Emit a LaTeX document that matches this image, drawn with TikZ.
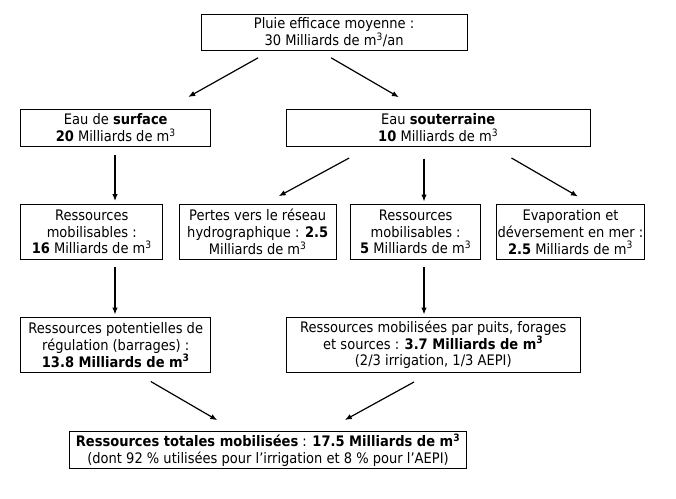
\documentclass[tikz,border=0pt]{standalone}
\usepackage{fontspec}
\setmainfont[FakeStretch=0.9]{DejaVu Sans}
\usetikzlibrary{arrows.meta}
\begin{document}
\begin{tikzpicture}[x=1pt,y=-1pt,
  box/.style={draw,line width=1pt,align=center,inner sep=0pt,font=\fontsize{14.5}{16.8}\selectfont},
  arr/.style={line width=1.2pt,-{Latex[length=7pt,width=5.5pt]}}]
\useasboundingbox[fill=white] (0,0) rectangle (676,498);
\node[box,minimum width=266.1pt,minimum height=35.7pt] (top) at (334.05,32.15) {Pluie efficace moyenne :\\30 Milliards de m\textsuperscript{3}/an};
\node[box,minimum width=190.1pt,minimum height=37.3pt] (surf) at (115.75,127.65) {Eau de \textbf{surface}\\\textbf{20} Milliards de m\textsuperscript{3}};
\node[box,minimum width=303.6pt,minimum height=37.3pt] (sout) at (438.2,127.65) {Eau \textbf{souterraine}\\\textbf{10} Milliards de m\textsuperscript{3}};
\node[box,minimum width=142.1pt,minimum height=54.8pt] (b1) at (91.75,231.9) {Ressources\\mobilisables :\\\textbf{16} Milliards de m\textsuperscript{3}};
\node[box,minimum width=157.2pt,minimum height=54.8pt] (b2) at (257.7,231.9) {Pertes vers le réseau\\hydrographique : \textbf{2.5}\\Milliards de m\textsuperscript{3}};
\node[box,minimum width=129.7pt,minimum height=54.8pt] (b3) at (415.65,231.9) {Ressources\\mobilisables :\\\textbf{5} Milliards de m\textsuperscript{3}};
\node[box,minimum width=148.9pt,minimum height=54.8pt] (b4) at (570.45,231.9) {Evaporation et\\déversement en mer :\\\textbf{2.5} Milliards de m\textsuperscript{3}};
\node[box,minimum width=190.1pt,minimum height=54.8pt] (l3) at (115.75,344.9) {Ressources potentielles de\\régulation (barrages) :\\\textbf{13.8 Milliards de m\textsuperscript{3}}};
\node[box,minimum width=293.7pt,minimum height=54.8pt] (r3) at (433.25,344.9) {Ressources mobilisées par puits, forages\\et sources : \textbf{3.7 Milliards de m\textsuperscript{3}}\\(2/3 irrigation, 1/3 AEPI)};
\node[box,minimum width=397.6pt,minimum height=36.6pt] (bot) at (268,450) {\textbf{Ressources totales mobilisées} : \textbf{17.5 Milliards de m\textsuperscript{3}}\\(dont 92 \% utilisées pour l’irrigation et 8 \% pour l’AEPI)};
\draw[arr] ([xshift=-75.95pt,yshift=-7.3pt]top.south) -- ([xshift=72.45pt,yshift=11.5pt]surf.north);
\draw[arr] ([xshift=-2.95pt,yshift=-7.3pt]top.south) -- ([xshift=-39.3pt,yshift=11.3pt]sout.north);
\draw[arr] ([xshift=-0.75pt,yshift=-7.7pt]surf.south) -- ([xshift=23.25pt,yshift=3pt]b1.north);
\draw[arr] ([xshift=-89pt,yshift=-11.2pt]sout.south) -- ([xshift=21pt,yshift=7.8pt]b2.north);
\draw[arr] ([xshift=-14.2pt,yshift=-11.7pt]sout.south) -- ([xshift=8.35pt,yshift=2.5pt]b3.north);
\draw[arr] ([xshift=73.3pt,yshift=-11.2pt]sout.south) -- ([xshift=7.45pt,yshift=7.5pt]b4.north);
\draw[arr] ([xshift=23.25pt,yshift=-6.7pt]b1.south) -- ([xshift=-0.75pt,yshift=2.5pt]l3.north);
\draw[arr] ([xshift=8.35pt,yshift=-7.2pt]b3.south) -- ([xshift=-9.25pt,yshift=2.5pt]r3.north);
\draw[arr] ([xshift=35.05pt,yshift=-8.7pt]l3.south) -- ([xshift=-50.7pt,yshift=11pt]bot.north);
\draw[arr] ([xshift=-19.25pt,yshift=-9.2pt]r3.south) -- ([xshift=76.8pt,yshift=11.2pt]bot.north);
\end{tikzpicture}
\end{document}
